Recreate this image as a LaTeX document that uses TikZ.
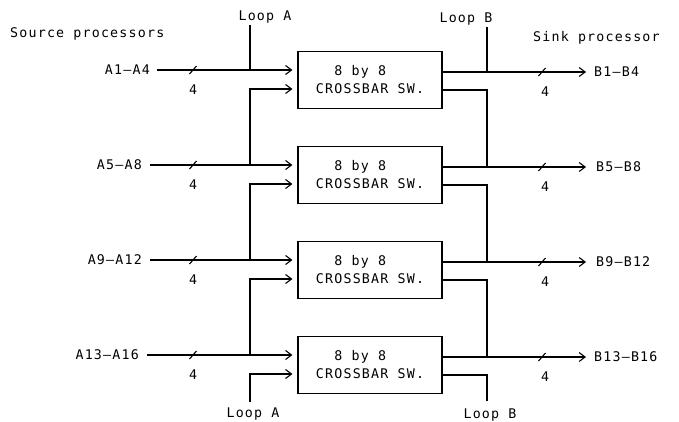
\documentclass[tikz,border=0pt]{standalone}
\usepackage{fontspec}
\setmainfont[LetterSpace=9]{DejaVu Sans Mono}
\usetikzlibrary{arrows.meta}
\begin{document}
\begin{tikzpicture}[x=1pt,y=-1pt,
  font=\fontsize{13.3}{18}\selectfont,
  ln/.style={line width=1.1pt},
  arr/.style={line width=1.1pt,-{Straight Barb[length=6pt,width=9pt,line width=1.1pt]}},
  box/.style={draw,line width=1.1pt,minimum width=144pt,minimum height=57pt,align=left,inner sep=0pt},
  lbl/.style={inner sep=0pt}]
\useasboundingbox (0,0) rectangle (679,421);

% titles
\node[lbl,anchor=base west] (src) at (10,37) {Source processors};
\node[lbl,anchor=base west] (snk) at (533,41) {Sink processor};
\node[lbl,anchor=base] (lat) at (265,20) {Loop A};
\node[lbl,anchor=base] (lbt) at (466,22) {Loop B};
\node[lbl,anchor=base] (lab) at (253,417) {Loop A};
\node[lbl,anchor=base] (lbb) at (490,418) {Loop B};

% switches
\node[box] (sw1) at (370,80)  {\hspace*{18.4pt}8 by 8\\CROSSBAR SW.};
\node[box] (sw2) at (370,175) {\hspace*{18.4pt}8 by 8\\CROSSBAR SW.};
\node[box] (sw3) at (370,270) {\hspace*{18.4pt}8 by 8\\CROSSBAR SW.};
\node[box] (sw4) at (370,365) {\hspace*{18.4pt}8 by 8\\CROSSBAR SW.};

% input labels
\node[lbl,anchor=east] (a1) at (150,70)  {A1–A4};
\node[lbl,anchor=east] (a2) at (142,165) {A5–A8};
\node[lbl,anchor=east] (a3) at (142,260) {A9–A12};
\node[lbl,anchor=east] (a4) at (139,355) {A13–A16};

% output labels
\node[lbl,anchor=west] (b1) at (594,72)  {B1–B4};
\node[lbl,anchor=west] (b2) at (596,167) {B5–B8};
\node[lbl,anchor=west] (b3) at (596,262) {B9–B12};
\node[lbl,anchor=west] (b4) at (594,357) {B13–B16};

% width labels
\node[lbl] (n1) at (193,90)  {4};
\node[lbl] (n2) at (193,185) {4};
\node[lbl] (n3) at (193,280) {4};
\node[lbl] (n4) at (193,375) {4};
\node[lbl] (m1) at (545,92)  {4};
\node[lbl] (m2) at (545,187) {4};
\node[lbl] (m3) at (545,282) {4};
\node[lbl] (m4) at (545,377) {4};

% loop coordinates
\coordinate (latop) at (250,25);
\coordinate (labot) at (250,402);
\coordinate (lbtop) at (487,27);
\coordinate (lbbot) at (487,401);

% input lines
\draw[arr,shorten <=7pt,shorten >=5pt] (a1.east) -- (a1.east -| sw1.west);
\draw[arr,shorten <=8pt,shorten >=5pt] (a2.east) -- (a2.east -| sw2.west);
\draw[arr,shorten <=8pt,shorten >=5pt] (a3.east) -- (a3.east -| sw3.west);
\draw[arr,shorten <=8pt,shorten >=5pt] (a4.east) -- (a4.east -| sw4.west);

% input slashes
\foreach \n in {n1,n2,n3,n4}
  \draw[ln] ([shift={(-3.5pt,16pt)}]\n.center) -- ([shift={(3.5pt,24pt)}]\n.center);

% loop A chain
\draw[ln] (latop) -- (latop |- a1.east);
\draw[arr,shorten >=5pt] (latop |- a2.east) |- ([yshift=-9pt]sw1.west);
\draw[arr,shorten >=5pt] (latop |- a3.east) |- ([yshift=-9pt]sw2.west);
\draw[arr,shorten >=5pt] (latop |- a4.east) |- ([yshift=-9pt]sw3.west);
\draw[arr,shorten >=5pt] (labot) |- ([yshift=-9pt]sw4.west);

% output lines
\draw[arr,shorten >=8pt] (sw1.east |- b1.west) -- (b1.west);
\draw[arr,shorten >=10pt] (sw2.east |- b2.west) -- (b2.west);
\draw[arr,shorten >=10pt] (sw3.east |- b3.west) -- (b3.west);
\draw[arr,shorten >=8pt] (sw4.east |- b4.west) -- (b4.west);

% output slashes
\foreach \m in {m1,m2,m3,m4}
  \draw[ln] ([shift={(-6.5pt,16pt)}]\m.center) -- ([shift={(0.5pt,24pt)}]\m.center);

% loop B chain
\draw[ln] (lbtop) -- (lbtop |- b1.west);
\draw[ln] ([yshift=-10pt]sw1.east) -| (lbtop |- b2.west);
\draw[ln] ([yshift=-10pt]sw2.east) -| (lbtop |- b3.west);
\draw[ln] ([yshift=-10pt]sw3.east) -| (lbtop |- b4.west);
\draw[ln] ([yshift=-10pt]sw4.east) -| (lbbot);
\end{tikzpicture}
\end{document}
